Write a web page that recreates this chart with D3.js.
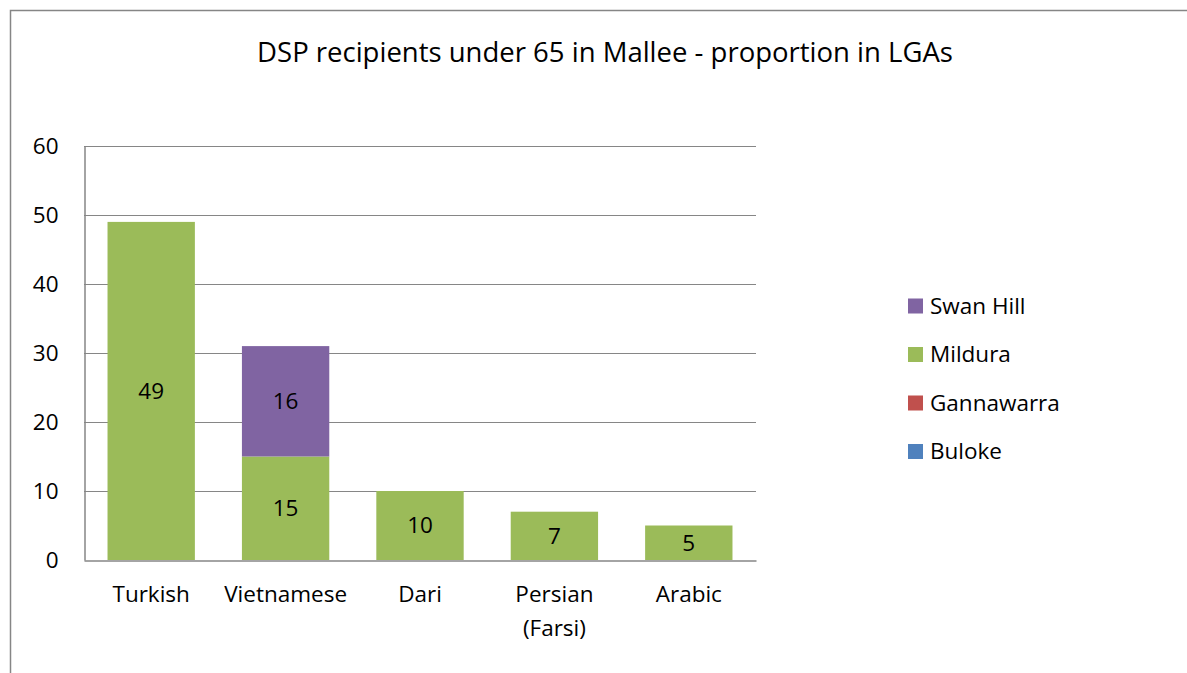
<!DOCTYPE html>
<html><head><meta charset="utf-8">
<script src="https://cdn.jsdelivr.net/npm/d3@7"></script>
<style>body{margin:0;background:#fff}svg{display:block}</style>
</head><body>
<script>
const categories = ["Turkish", "Vietnamese", "Dari", "Persian (Farsi)", "Arabic"];
const categoryLines = [["Turkish"], ["Vietnamese"], ["Dari"], ["Persian", "(Farsi)"], ["Arabic"]];
const seriesNames = ["Buloke", "Gannawarra", "Mildura", "Swan Hill"];
const buloke = [0, 0, 0, 0, 0];
const gannawarra = [0, 0, 0, 0, 0];
const mildura = [49, 15, 10, 7, 5];
const swanHill = [0, 16, 0, 0, 0];
const yTicks = [0, 10, 20, 30, 40, 50, 60];
const colors = {"Buloke": "#4F81BD", "Gannawarra": "#C0504D", "Mildura": "#9BBB59", "Swan Hill": "#8064A2"};

(function () {
const W = 1187, H = 673;
const font = "'Open Sans', 'Noto Sans', sans-serif";
const fs = 22.5;
const svg = d3.select("body").append("svg").attr("width", W).attr("height", H);

svg.append("rect").attr("x", 10.5).attr("y", 10.5).attr("width", W + 20).attr("height", H + 20)
  .attr("fill", "none").attr("stroke", "#868686").attr("stroke-width", 1.5);

svg.append("text").attr("x", 605).attr("y", 52).attr("dy", "0.35em").attr("text-anchor", "middle")
  .attr("font-family", font).attr("font-size", 27.5).attr("fill", "#000")
  .text("DSP recipients under 65 in Mallee - proportion in LGAs");

const pl = 84, pr = 756, pt = 146, pb = 560;
const x = d3.scaleBand().domain(categories).range([pl, pr]).paddingInner(0.35).paddingOuter(0.175);
const y = d3.scaleLinear().domain([0, 60]).range([pb, pt]);

const table = categories.map((c, i) => ({cat: c, "Buloke": buloke[i], "Gannawarra": gannawarra[i], "Mildura": mildura[i], "Swan Hill": swanHill[i]}));
const stacked = d3.stack().keys(seriesNames)(table);

svg.append("g").selectAll("line").data(yTicks.filter(t => t > 0)).join("line")
  .attr("x1", pl).attr("x2", pr).attr("y1", d => y(d) + 0.5).attr("y2", d => y(d) + 0.5)
  .attr("stroke", "#868686").attr("stroke-width", 1.2);

const g = svg.append("g");
stacked.forEach(s => {
  g.append("g").selectAll("rect").data(s).join("rect")
    .attr("x", d => x(d.data.cat)).attr("width", x.bandwidth())
    .attr("y", d => y(d[1])).attr("height", d => y(d[0]) - y(d[1]))
    .attr("fill", colors[s.key]);
  g.append("g").selectAll("text").data(s.filter(d => d[1] - d[0] > 0)).join("text")
    .attr("x", d => x(d.data.cat) + x.bandwidth() / 2)
    .attr("y", d => (y(d[0]) + y(d[1])) / 2)
    .attr("dy", "0.35em").attr("text-anchor", "middle")
    .attr("font-family", font).attr("font-size", fs).attr("fill", "#000")
    .text(d => d[1] - d[0]);
});

const yAxis = svg.append("g").attr("transform", `translate(${pl + 0.5},0)`)
  .call(d3.axisLeft(y).tickValues(yTicks).tickSize(0).tickPadding(26));
yAxis.select(".domain").attr("stroke", "#868686").attr("stroke-width", 1.5);
yAxis.selectAll("text").attr("font-family", font).attr("font-size", fs).attr("fill", "#000");

const xAxis = svg.append("g").attr("transform", `translate(0,${pb + 0.5})`)
  .call(d3.axisBottom(x).tickSize(0).tickFormat(() => ""));
xAxis.select(".domain").attr("stroke", "#868686").attr("stroke-width", 1.5);
xAxis.selectAll(".tick text").remove();
categories.forEach((c, i) => {
  const t = svg.append("text").attr("x", x(c) + x.bandwidth() / 2).attr("y", 594).attr("dy", "0.35em")
    .attr("text-anchor", "middle").attr("font-family", font).attr("font-size", fs).attr("fill", "#000");
  categoryLines[i].forEach((ln, j) => t.append("tspan").attr("x", x(c) + x.bandwidth() / 2).attr("dy", j === 0 ? "0.35em" : 34).text(ln));
});

const legendOrder = seriesNames.slice().reverse();
const lg = svg.append("g");
legendOrder.forEach((n, i) => {
  const cy = 306 + i * 48.5;
  lg.append("rect").attr("x", 908).attr("y", cy - 7.5).attr("width", 15).attr("height", 15).attr("fill", colors[n]);
  lg.append("text").attr("x", 930).attr("y", cy).attr("dy", "0.35em")
    .attr("font-family", font).attr("font-size", fs).attr("fill", "#000").text(n);
});
})();
</script>
</body></html>
